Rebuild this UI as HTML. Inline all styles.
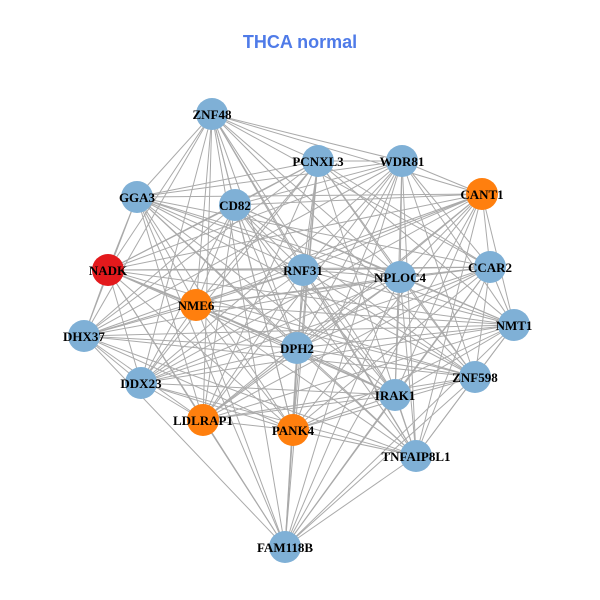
<!DOCTYPE html>
<html><head><meta charset="utf-8"><style>
html,body{margin:0;padding:0;background:#fff;}
svg{display:block;}
</style></head><body>
<svg id="s" width="600" height="600" xmlns="http://www.w3.org/2000/svg">
<text x="300" y="48" text-anchor="middle" font-family="Liberation Sans, sans-serif" font-weight="bold" font-size="18" fill="#4F7BE8">THCA normal</text>
<g id="e" stroke="#aaaaaa" stroke-width="1"></g>
<g id="n"></g>
<g id="t" font-family="Liberation Serif, serif" font-weight="bold" font-size="13" fill="#000" text-anchor="middle"></g>
</svg>
<script>
var N=[["ZNF48",212,114,"b"],["PCNXL3",318,161,"b"],["WDR81",402,161,"b"],["GGA3",137,197,"b"],["CD82",235,205,"b"],["CANT1",482,194,"o"],["NADK",108,270,"r"],["RNF31",303,270,"b"],["NPLOC4",400,277,"b"],["CCAR2",490,267,"b"],["NME6",196,305,"o"],["NMT1",514,325,"b"],["DHX37",84,336,"b"],["DPH2",297,348,"b"],["ZNF598",475,377,"b"],["DDX23",141,383,"b"],["IRAK1",395,395,"b"],["LDLRAP1",203,420,"o"],["PANK4",293,430,"o"],["TNFAIP8L1",416,456,"b"],["FAM118B",285,547,"b"]];
var C={b:"#7FB0D6",o:"#FF7F0E",r:"#E3191C"};
var ns="http://www.w3.org/2000/svg";
var E=document.getElementById("e"),G=document.getElementById("n"),T=document.getElementById("t");
for(var i=0;i<N.length;i++)for(var j=i+1;j<N.length;j++){
 if((i*7+j*3)%11==0)continue;
 var l=document.createElementNS(ns,"line");
 l.setAttribute("x1",N[i][1]);l.setAttribute("y1",N[i][2]);
 l.setAttribute("x2",N[j][1]);l.setAttribute("y2",N[j][2]);E.appendChild(l);}
N.forEach(function(d){
 var c=document.createElementNS(ns,"circle");
 c.setAttribute("cx",d[1]);c.setAttribute("cy",d[2]);c.setAttribute("r",16);
 c.setAttribute("fill",C[d[3]]);G.appendChild(c);
 var t=document.createElementNS(ns,"text");
 t.setAttribute("x",d[1]);t.setAttribute("y",d[2]+5);t.textContent=d[0];T.appendChild(t);});
</script>
</body></html>
